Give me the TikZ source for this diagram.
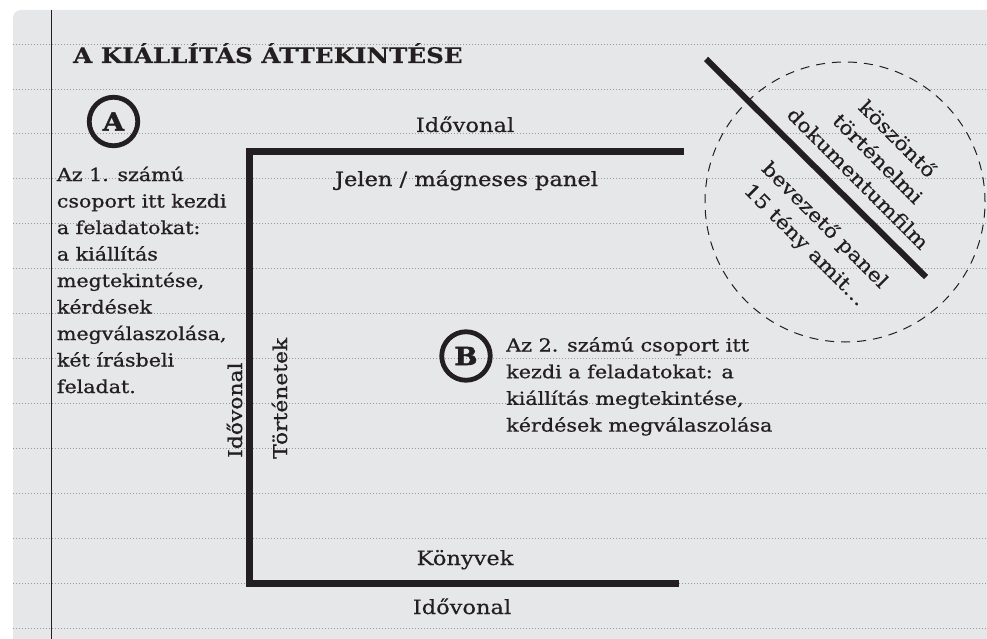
\documentclass[tikz,border=0pt]{standalone}
\usepackage{fontspec}
\setmainfont[FakeStretch=1.15,FakeBold=0.3]{DejaVu Serif}
\newfontfamily\semib[FakeStretch=1.15,FakeBold=0.9]{DejaVu Serif}
\newfontfamily\heavy[FakeStretch=1.1,BoldFeatures={FakeBold=1.6}]{DejaVu Serif}
\definecolor{ink}{HTML}{231F20}
\definecolor{paper}{HTML}{E6E7E8}
\usetikzlibrary{positioning}

\begin{document}
\begin{tikzpicture}[x=1pt,y=-1pt,
  every node/.style={inner sep=0pt,text=ink,font=\fontsize{19.6}{19.6}\selectfont},
  rule/.style={gray!80,line width=0.8pt,dash pattern=on 0.8pt off 2.2pt},
  wall/.style={draw=ink,line width=6.5pt},
  badge/.style={circle,draw=ink,line width=4.8pt,minimum size=48.5pt,font=\fontsize{25}{25}\selectfont\heavy\bfseries},
  note/.style={align=left,anchor=base west},
  side/.style={anchor=base west,rotate=90,font=\fontsize{19}{19}\selectfont\semib},
  film/.style={rotate=-45,align=center,font=\fontsize{19.3}{28}\selectfont}]
\useasboundingbox (0,0) rectangle (987,639);
\clip (0,0) rectangle (987,639);
\fill[paper,rounded corners=8pt] (13,10) rectangle (1010,660);
\foreach \k in {0,...,13}
  \draw[rule] (13,44+44.95*\k) -- (987,44+44.95*\k);
\draw[ink,line width=1pt] (51,10) -- (51,639);

\node[anchor=base west,font=\fontsize{21.4}{21.4}\selectfont\bfseries] (ttl) at (73,63) {A KIÁLLÍTÁS ÁTTEKINTÉSE};

\node[badge] (ba) at (113.5,121.5) {A};
\node[note,font=\fontsize{17.9}{26.5}\selectfont\semib] (ta) at (56.7,393)
  {Az 1. számú\\csoport itt kezdi\\a feladatokat:\\a kiállítás\\megtekintése,\\kérdések\\megválaszolása,\\két írásbeli\\feladat.};

\coordinate (tr) at (684,151.5);
\coordinate (tl) at (249.3,151.5);
\coordinate (bl) at (249.3,583.5);
\coordinate (br) at (679,583.5);
\draw[wall] (tr) -- (tl) -- (bl) -- (br);

\node[anchor=base] (ido1) at (465,132) {Idővonal};
\node[anchor=base,font=\fontsize{19.6}{19.6}\selectfont\semib] (jel) at (466.5,186) {Jelen / mágneses panel};
\node[anchor=base] (kon) at (465,565) {Könyvek};
\node[anchor=base] (ido2) at (462,614) {Idővonal};
\node[side] (ido3) at (242,458) {Idővonal};
\node[side] (tort) at (287,459) {Történetek};

\node[badge] (bb) at (466,356) {B};
\node[note,font=\fontsize{18}{26.7}\selectfont\semib] (tb) at (506,431.6)
  {Az 2. számú csoport itt\\kezdi a feladatokat: a\\kiállítás megtekintése,\\kérdések megválaszolása};

\node[circle,draw=ink,line width=1pt,dash pattern=on 9pt off 7pt,minimum size=280pt] (circ) at (845,202) {};
\coordinate (ds) at (706,59);
\coordinate (de) at (926,277);
\draw[wall,line width=6pt] (ds) -- (de);
\node[film,anchor=south] (tfilm) at (852.8,183.7) {köszöntő\\történelmi\\dokumentumfilm};
\node[film,anchor=north] (tpan) at (831.5,218.5) {bevezető panel\\15 tény amit…};
\end{tikzpicture}
\end{document}
